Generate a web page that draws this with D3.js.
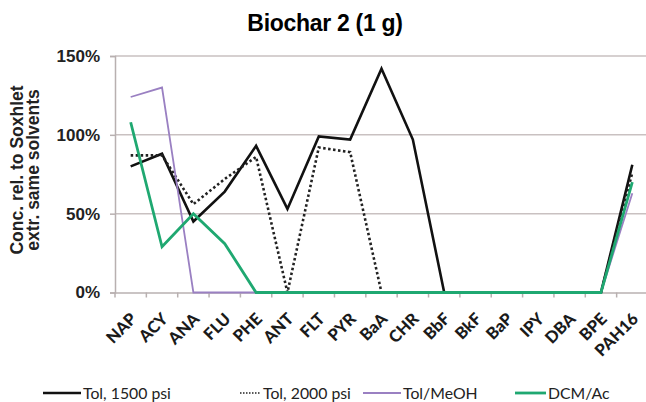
<!DOCTYPE html>
<html>
<head>
<meta charset="utf-8">
<script src="https://cdn.jsdelivr.net/npm/d3@7"></script>
<style>
  body { margin: 0; background: #fff; }
  svg { display: block; }
</style>
</head>
<body>
<div id="chart"></div>
<script>
// PAH compounds on x axis
const compounds = ["NAP", "ACY", "ANA", "FLU", "PHE", "ANT", "FLT", "PYR", "BaA",
  "CHR", "BbF", "BkF", "BaP", "IPY", "DBA", "BPE", "PAH16"];

// values in % relative to soxhlet
const tol1500 = [80, 88, 45, 64, 93, 53, 99, 97, 142, 97, 0, 0, 0, 0, 0, 0, 81];
const tol2000 = [87, 87, 56, 72, 86, 0, 92, 89, 0, 0, 0, 0, 0, 0, 0, 0, 76];
const tolMeoh = [124, 130, 0, 0, 0, 0, 0, 0, 0, 0, 0, 0, 0, 0, 0, 0, 63];
const dcmAc = [108, 29, 50, 31, 0, 0, 0, 0, 0, 0, 0, 0, 0, 0, 0, 0, 70];

const yTicks = [0, 50, 100, 150];

const seriesNames = ["Tol, 1500 psi", "Tol, 2000 psi", "Tol/MeOH", "DCM/Ac"];

const width = 646, height = 402;

const svg = d3.select("#chart").append("svg")
  .attr("width", width)
  .attr("height", height);

const x = d3.scaleBand().domain(compounds).range([115, 648]);
const y = d3.scaleLinear().domain([0, 150]).range([292.5, 56]);

// title
svg.append("text")
  .attr("x", 325).attr("y", 31)
  .attr("text-anchor", "middle")
  .attr("font-family", "Liberation Sans, Arial, sans-serif")
  .attr("font-weight", "bold")
  .attr("font-size", 23)
  .attr("letter-spacing", -0.3)
  .text("Biochar 2 (1 g)");

// gridlines
svg.append("g").selectAll("line")
  .data(yTicks.filter(d => d > 0))
  .join("line")
  .attr("x1", 115).attr("x2", width)
  .attr("y1", d => y(d)).attr("y2", d => y(d))
  .attr("stroke", "#c9c1c1").attr("stroke-width", 1.5);

// y axis
const yAxis = svg.append("g")
  .attr("transform", "translate(115,0)")
  .call(d3.axisLeft(y).tickValues(yTicks).tickSize(5).tickFormat(d => d + "%"));
yAxis.select(".domain").attr("stroke", "#b8b0b0").attr("stroke-width", 1.5);
yAxis.selectAll(".tick line").attr("stroke", "#b8b0b0").attr("stroke-width", 1.5);
yAxis.selectAll(".tick text")
  .attr("x", -15)
  .attr("font-family", "Liberation Sans, Arial, sans-serif")
  .attr("font-weight", "bold")
  .attr("font-size", 17)
  .attr("fill", "#222");

// x axis
const xAxis = svg.append("g")
  .attr("transform", "translate(0," + y(0) + ")")
  .call(d3.axisBottom(x).tickSize(0).tickFormat(""));
xAxis.select(".domain").attr("stroke", "#b8b0b0").attr("stroke-width", 1.5);

// tick marks at band edges
svg.append("g").selectAll("line")
  .data(compounds)
  .join("line")
  .attr("x1", d => x(d)).attr("x2", d => x(d))
  .attr("y1", y(0)).attr("y2", y(0) + 5)
  .attr("stroke", "#b8b0b0").attr("stroke-width", 1.5);

// rotated category labels
svg.append("g").selectAll("text")
  .data(compounds)
  .join("text")
  .attr("transform", d => "translate(" + (x(d) + x.bandwidth() / 2 + 7) + ",320) rotate(-45)")
  .attr("text-anchor", "end")
  .attr("font-family", "Lato, sans-serif")
  .attr("font-weight", 900)
  .attr("font-size", 16.5)
  .attr("fill", "#1a1a1a")
  .text(d => d);

// y axis title
const yTitle = svg.append("text")
  .attr("transform", "translate(23,170) rotate(-90)")
  .attr("text-anchor", "middle")
  .attr("font-family", "Liberation Sans, Arial, sans-serif")
  .attr("font-weight", "bold")
  .attr("font-size", 17.5)
  .attr("fill", "#222");
yTitle.append("tspan").attr("x", 0).attr("dy", 0).text("Conc. rel. to Soxhlet");
yTitle.append("tspan").attr("x", 0).attr("dy", 15.5).text("extr. same solvents");

// lines
const line = d3.line()
  .x((d, i) => x(compounds[i]) + x.bandwidth() / 2)
  .y(d => y(d));

const styles = [
  { data: tol1500, color: "#111", w: 2.6, dash: null },
  { data: tol2000, color: "#222", w: 2.6, dash: "2.5,2.5" },
  { data: tolMeoh, color: "#9a80c2", w: 1.8, dash: null },
  { data: dcmAc, color: "#1fa871", w: 2.8, dash: null }
];

svg.append("g").selectAll("path")
  .data(styles)
  .join("path")
  .attr("d", d => line(d.data))
  .attr("fill", "none")
  .attr("stroke", d => d.color)
  .attr("stroke-width", d => d.w)
  .attr("stroke-dasharray", d => d.dash)
  .attr("stroke-linejoin", "miter");

// legend
const legendX = [43, 240, 363, 515];
const legend = svg.append("g").selectAll("g")
  .data(styles)
  .join("g")
  .attr("transform", (d, i) => "translate(" + legendX[i] + ",393)");
legend.append("line")
  .attr("x1", 0).attr("x2", (d, i) => i == 1 ? 20 : (i == 3 ? 31 : 38))
  .attr("stroke", d => d.color)
  .attr("stroke-width", (d, i) => i == 1 ? 1.5 : d.w)
  .attr("stroke-dasharray", (d, i) => i == 1 ? "1.5,1.5" : null);
legend.append("text")
  .attr("x", (d, i) => i == 1 ? 23 : (i == 3 ? 33 : 40))
  .attr("y", 5.5)
  .attr("font-family", "Lato, sans-serif")
  .attr("font-size", 15.8)
  .attr("fill", "#222")
  .text((d, i) => seriesNames[i]);
</script>
</body>
</html>
